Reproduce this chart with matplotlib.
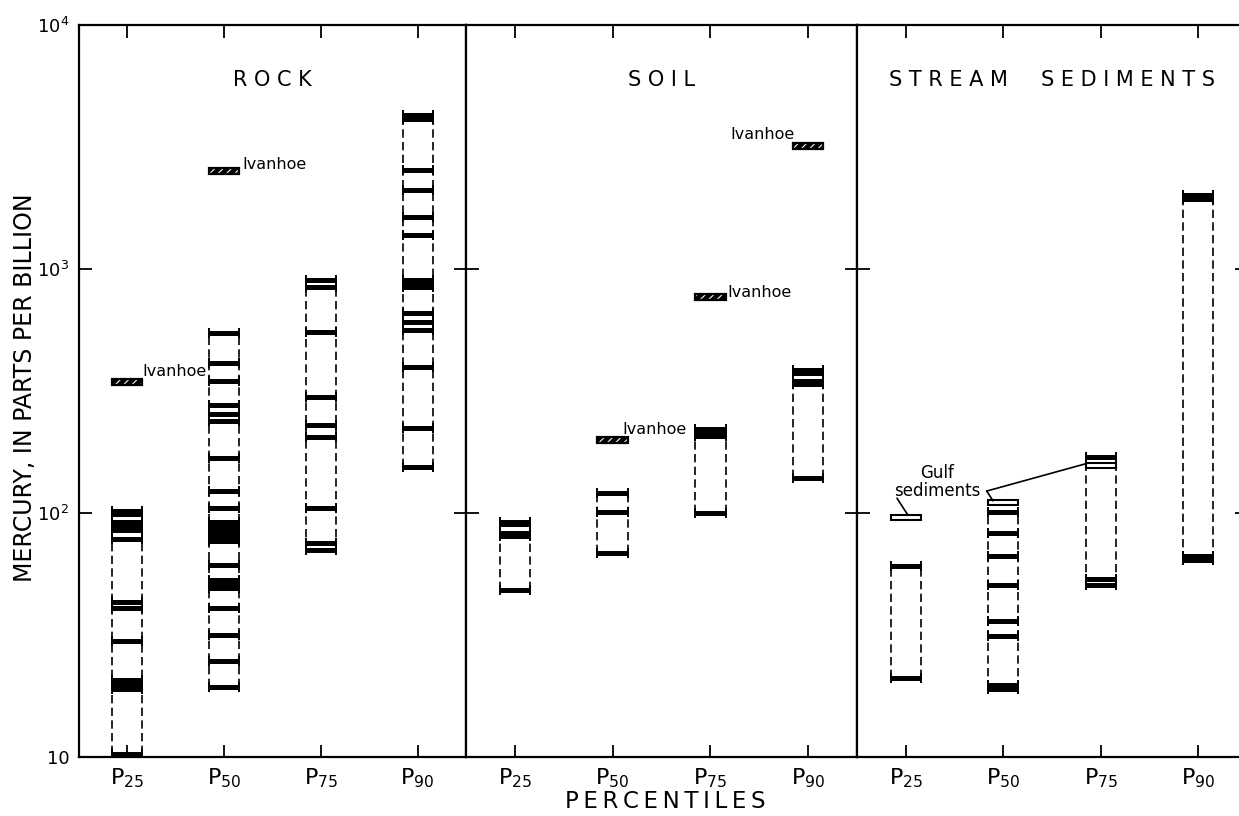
import numpy as np
import matplotlib
matplotlib.use('Agg')
import matplotlib.pyplot as plt
from matplotlib.patches import Rectangle
from matplotlib.ticker import NullLocator

plt.rcParams['font.family'] = 'DejaVu Sans'
plt.rcParams['mathtext.fontset'] = 'dejavusans'
plt.rcParams['hatch.linewidth'] = 0.8

# otsikot ja luokat
paneelit = ['R O C K', 'S O I L', 'S T R E A M     S E D I M E N T S']
persentiilit = ['25', '50', '75', '90']

# elohopea (ppb), jokainen viiva omana arvonaan: P25, P50, P75, P90
rock = [
    [102, 99, 92, 88.5, 85, 78, 43, 40.8, 30, 20.7, 20.1, 19.5, 19.0, 10.3],
    [547, 412, 348, 277, 255, 238, 168, 123, 105, 91.9, 88.5, 85.2, 82.0, 79.0, 76.8,
     61, 53.2, 51.2, 49.3, 40.8, 31.6, 24.7, 19.4],
    [902, 844, 552, 299, 230, 205, 105, 75, 70.5],
    [4280, 4120, 2550, 2110, 1630, 1380, 900, 870, 845, 660, 606, 562, 396, 223, 155],
]
soil = [
    [92, 90, 83, 80.5, 48.3],
    [121, 101, 68.5],
    [221, 212, 206, 100],
    [384, 374, 348, 338, 139],
]
stream = [
    [60.7, 21.1],
    [101, 83, 66.7, 50.7, 36, 31.3, 19.8, 19.0],
    [170, 53.6, 50.8],
    [2010, 1936, 66.6, 64.3],
]
# Ivanhoe-alueen arvot (vinoviivoitetut) ja Meksikonlahden sedimentit (avoimet)
ivanhoe_rock = [344, 2523, None, None]
ivanhoe_soil = [None, 199, 767, 3190]
gulf_stream = [96, 110, 156, None]

aineisto = [rock, soil, stream]
ivanhoe = [ivanhoe_rock, ivanhoe_soil, [None] * 4]

w = 0.155          # laatikon puolileveys
k = 1.028          # merkityn palkin korkeus (kerroin)

fig = plt.figure(figsize=(12.39, 8.16), dpi=100)
W, H = 1239, 816
rajat = [79, 466, 857, 1247]
akselit = []
for i in range(3):
    ax = fig.add_axes([rajat[i] / W, 59 / H, (rajat[i + 1] - rajat[i]) / W, 732 / H])
    akselit.append(ax)


def piirra(ax, arvot, x):
    lo, hi = min(arvot), max(arvot)
    ax.vlines([x - w, x + w], lo, hi, colors='k', linestyles=(0, (5, 2.6)), lw=1.2)
    ax.hlines(arvot, x - w, x + w, colors='k', lw=3.6, capstyle='butt')
    ax.plot([x - w] * len(arvot), arvot, 'k|', ms=6.5, mew=1.4)
    ax.plot([x + w] * len(arvot), arvot, 'k|', ms=6.5, mew=1.4)


for p, ax in enumerate(akselit):
    ax.set_yscale('log')
    ax.set_xlim(0, 4)
    ax.set_ylim(10, 10000)
    xs = np.arange(4) + 0.5
    for j, x in enumerate(xs):
        piirra(ax, aineisto[p][j], x)
        v = ivanhoe[p][j]
        if v is not None:
            ax.add_patch(Rectangle((x - w, v / k), 2 * w, v * k - v / k, fc='k',
                                   ec='white', lw=0, hatch='////'))
            ax.add_patch(Rectangle((x - w, v / k), 2 * w, v * k - v / k, fc='none',
                                   ec='k', lw=1.6))
    ax.set_xticks(xs)
    ax.set_xticklabels([r'$\mathrm{P}_{%s}$' % s for s in persentiilit], fontsize=16)
    ax.set_yticks([10, 100, 1000, 10000])
    ax.yaxis.set_minor_locator(NullLocator())
    ax.tick_params(axis='both', which='major', direction='in', length=9, width=1.3,
                   top=True, right=True, pad=7)
    if p == 0:
        ax.set_yticklabels(['10', r'$10^2$', r'$10^3$', r'$10^4$'], fontsize=13)
    else:
        ax.set_yticklabels([])
    for s in ax.spines.values():
        s.set_linewidth(1.6)
    ax.text(0.5, 0.925, paneelit[p], transform=ax.transAxes, ha='center', va='center',
            fontsize=15)

# Ivanhoe-tekstit
ax = akselit[0]
ax.annotate('Ivanhoe', (0.5 + w, ivanhoe_rock[0]), xytext=(0, 2), textcoords='offset points',
            ha='left', va='bottom', fontsize=11.5)
ax.annotate('Ivanhoe', (1.5 + w, ivanhoe_rock[1]), xytext=(2, -1), textcoords='offset points',
            ha='left', va='bottom', fontsize=11.5)
ax = akselit[1]
ax.annotate('Ivanhoe', (1.5 + w, ivanhoe_soil[1]), xytext=(-4, 2), textcoords='offset points',
            ha='left', va='bottom', fontsize=11.5)
ax.annotate('Ivanhoe', (2.5 + w, ivanhoe_soil[2]), xytext=(1, -2), textcoords='offset points',
            ha='left', va='bottom', fontsize=11.5)
ax.annotate('Ivanhoe', (3.5 - w, ivanhoe_soil[3]), xytext=(1, 3), textcoords='offset points',
            ha='right', va='bottom', fontsize=11.5)

# Gulf sediments
ax = akselit[2]
for j, v in enumerate(gulf_stream):
    if v is not None:
        ax.add_patch(Rectangle((xs[j] - w, v / 1.024), 2 * w, v * 1.024 - v / 1.024,
                               fc='white', ec='k', lw=1.5, zorder=3))
ax.text(0.82, 134, 'Gulf\nsediments', ha='center', va='center', fontsize=12,
        linespacing=1.0)
ax.annotate('', xy=(xs[1] - w + 0.05, gulf_stream[1] * 1.02), xytext=(1.33, 123),
            arrowprops=dict(arrowstyle='-', lw=1.2, color='k', shrinkA=0, shrinkB=0))
ax.annotate('', xy=(xs[2] - w, gulf_stream[2] * 1.02), xytext=(1.33, 123),
            arrowprops=dict(arrowstyle='-', lw=1.2, color='k', shrinkA=0, shrinkB=0))
ax.annotate('', xy=(xs[0] + 0.02, gulf_stream[0] * 1.025), xytext=(xs[0] - 0.09, 115),
            arrowprops=dict(arrowstyle='-', lw=1.2, color='k', shrinkA=0, shrinkB=0))

fig.text(25 / W, 1 - 388 / H, 'MERCURY, IN PARTS PER BILLION', rotation=90,
         ha='center', va='center', fontsize=17)
fig.text(665 / W, 1 - 801 / H, '\u2009'.join('PERCENTILES'), ha='center', va='center',
         fontsize=16.5)

fig.savefig('out.png', dpi=100)
